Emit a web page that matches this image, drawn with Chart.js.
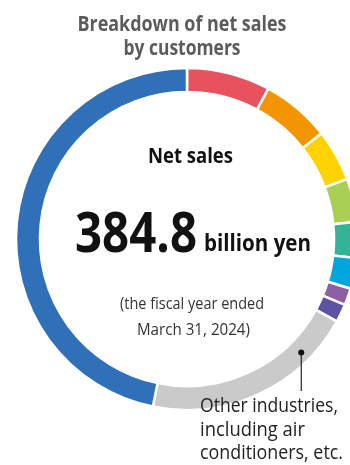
<!DOCTYPE html>
<html>
<head>
<meta charset="utf-8">
<title>Breakdown of net sales by customers</title>
<script src="https://cdn.jsdelivr.net/npm/chart.js@4/dist/chart.umd.min.js"></script>
<style>
  html, body { margin: 0; padding: 0; background: #ffffff; overflow: hidden; }
  #wrap { position: relative; width: 350px; height: 465px; overflow: hidden; }
  canvas { position: absolute; left: 0; top: 0; }
</style>
</head>
<body>
<div id="wrap"><canvas id="chart" width="374" height="465"></canvas></div>
<script>
// Share of net sales by customer group (%), clockwise from 12 o'clock
const categories = [
  'Customer group 1', 'Customer group 2', 'Customer group 3', 'Customer group 4',
  'Customer group 5', 'Customer group 6', 'Customer group 7', 'Customer group 8',
  'Other industries, including air conditioners, etc.', 'Customer group 9'
];
const shares = [7.9, 6.5, 4.9, 4.1, 3.4, 2.9, 1.6, 1.7, 20.2, 46.8];
const sliceColors = [
  '#E8525F', '#F39500', '#FFD300', '#A9CF54', '#34B497',
  '#00A5DC', '#8F5FA4', '#5E52A3', '#C9CAC9', '#2F70B9'
];

const titleLines = ['Breakdown of net sales', 'by customers'];
const centerHeading = 'Net sales';
const totalValue = '384.8';
const totalUnit = 'billion yen';
const periodLines = ['(the fiscal year ended', 'March 31, 2024)'];
const calloutIndex = 8;
const calloutLines = ['Other industries,', 'including air', 'conditioners, etc.'];

// Draw a line of text squeezed/stretched to a given width
function fitText(ctx, text, x, y, font, width, align) {
  ctx.save();
  ctx.font = font;
  const w = ctx.measureText(text).width;
  const s = width / w;
  ctx.translate(x, y);
  ctx.scale(s, 1);
  ctx.textAlign = align || 'left';
  ctx.textBaseline = 'alphabetic';
  ctx.fillText(text, 0, 0);
  ctx.restore();
}

const textPlugin = {
  id: 'salesText',
  afterDraw(chart) {
    const ctx = chart.ctx;
    const arc = chart.getDatasetMeta(0).data[0];
    const cx = arc.x;

    // Title
    ctx.fillStyle = '#5b5b5b';
    fitText(ctx, titleLines[0], 182, 31, 'bold 21px "Open Sans"', 209, 'center');
    fitText(ctx, titleLines[1], 182, 55, 'bold 21px "Open Sans"', 117, 'center');

    // Centre block
    ctx.fillStyle = '#111111';
    fitText(ctx, centerHeading, cx + 3.5, 163, 'bold 21px "Open Sans"', 85, 'center');
    fitText(ctx, totalValue, 75, 252, 'bold 55px "Open Sans"', 122, 'left');
    fitText(ctx, totalUnit, 204, 251, 'bold 23px "Open Sans"', 107, 'left');

    ctx.fillStyle = '#333333';
    fitText(ctx, periodLines[0], cx + 5, 309, '16px "Open Sans"', 144, 'center');
    fitText(ctx, periodLines[1], cx + 6.5, 335, '16px "Open Sans"', 113, 'center');

    // Callout for the "other industries" slice
    const seg = chart.getDatasetMeta(0).data[calloutIndex];
    const a = seg.startAngle + (seg.endAngle - seg.startAngle) * 0.22;
    const r = (seg.innerRadius + seg.outerRadius) / 2 + 2;
    const px = seg.x + Math.cos(a) * r;
    const py = seg.y + Math.sin(a) * r;
    ctx.save();
    ctx.strokeStyle = '#222222';
    ctx.lineWidth = 1.2;
    ctx.beginPath();
    ctx.moveTo(px, py);
    ctx.lineTo(px, 391);
    ctx.stroke();
    ctx.fillStyle = '#111111';
    ctx.beginPath();
    ctx.arc(px, py, 3, 0, Math.PI * 2);
    ctx.fill();
    ctx.restore();

    ctx.fillStyle = '#222222';
    fitText(ctx, calloutLines[0], 200, 412, '20px "Open Sans"', 138, 'left');
    fitText(ctx, calloutLines[1], 200, 436, '20px "Open Sans"', 105, 'left');
    fitText(ctx, calloutLines[2], 200, 459, '20px "Open Sans"', 143, 'left');
  }
};

new Chart(document.getElementById('chart'), {
  type: 'doughnut',
  data: {
    labels: categories,
    datasets: [{
      data: shares,
      backgroundColor: sliceColors,
      borderColor: '#ffffff',
      borderWidth: 2.5,
      hoverOffset: 0
    }]
  },
  options: {
    responsive: false,
    animation: false,
    devicePixelRatio: 1,
    radius: 171,
    cutout: '86%',
    layout: { padding: { left: 17, right: 17, top: 69, bottom: 56 } },
    plugins: {
      legend: { display: false },
      tooltip: { enabled: false },
      title: { display: false }
    }
  },
  plugins: [textPlugin]
});
</script>
</body>
</html>
